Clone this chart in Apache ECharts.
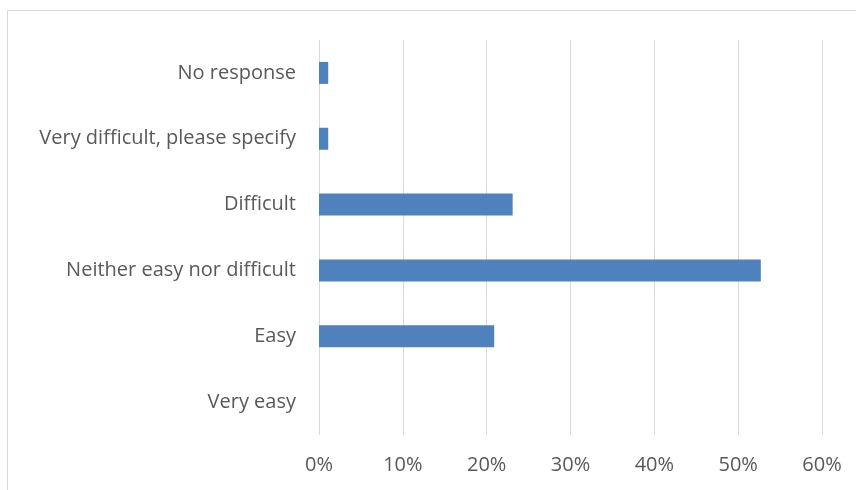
<!DOCTYPE html>
<html>
<head>
<meta charset="utf-8">
<script src="https://cdn.jsdelivr.net/npm/echarts@6/dist/echarts.min.js"></script>
<style>
  html, body { margin: 0; padding: 0; background: #fff; }
  #chart { width: 856px; height: 490px; }
</style>
</head>
<body>
<div id="chart"></div>
<script>
// categories from bottom to top
var categories = ['Very easy', 'Easy', 'Neither easy nor difficult', 'Difficult',
                  'Very difficult, please specify', 'No response'];
var shares = [0, 20.9, 52.7, 23.1, 1.1, 1.1];
var tickStep = 10;
var tickMax = 60;

var chart = echarts.init(document.getElementById('chart'));
var font = 'Open Sans';

chart.setOption({
    animation: false,
    graphic: [{
        type: 'rect',
        shape: { x: 7.5, y: 10.5, width: 900, height: 600 },
        style: { fill: 'none', stroke: '#d9d9d9', lineWidth: 1 },
        silent: true
    }],
    grid: { left: 319, right: 34, top: 40, bottom: 55 },
    xAxis: {
        type: 'value',
        min: 0,
        max: tickMax,
        interval: tickStep,
        axisLine: { show: false },
        axisTick: { show: false },
        splitLine: { lineStyle: { color: '#d9d9d9', width: 1 } },
        axisLabel: {
            formatter: '{value}%',
            color: '#595959',
            fontFamily: font,
            fontSize: 20,
            margin: 20
        }
    },
    yAxis: {
        type: 'category',
        data: categories,
        axisLine: { show: false },
        axisTick: { show: false },
        axisLabel: {
            color: '#595959',
            fontFamily: font,
            fontSize: 20,
            margin: 23
        }
    },
    series: [{
        type: 'bar',
        data: shares,
        barWidth: 22,
        itemStyle: { color: '#4f81bd' }
    }]
});
</script>
</body>
</html>
